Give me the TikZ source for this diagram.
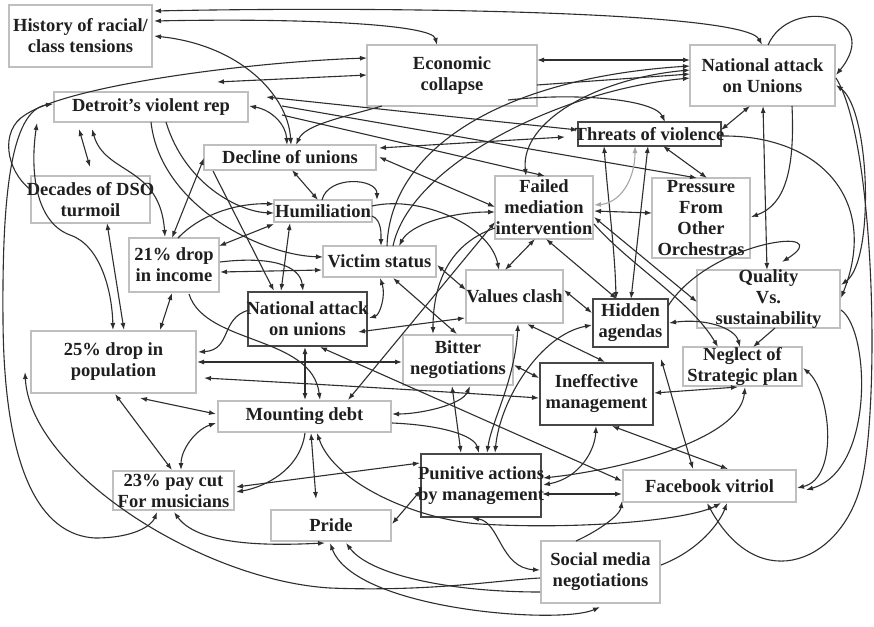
\documentclass[tikz,border=0pt]{standalone}
\usepackage{fontspec}
\setmainfont{Liberation Serif}
\usetikzlibrary{arrows.meta}
\newcommand\mybox[7]{%
  \expandafter\def\csname cx@#2\endcsname{#3}%
  \expandafter\def\csname cy@#2\endcsname{#4}%
  \node[#1,minimum width=#5pt,minimum height=#6pt] (#2) at (#3,#4) {};
  \node[txt] (#2-t) at (#2.center) {#7};}
\newcommand\np[3]{([shift={(#2-\csname cx@#1\endcsname,#3-\csname cy@#1\endcsname)}]#1.center)}
\tikzset{
 box/.style={draw=black!25, line width=1.3pt, inner sep=0pt},
 dbox/.style={box, draw=black!72},
 txt/.style={inner sep=0pt, align=center, text=black!88, font=\fontsize{18.5}{21}\selectfont\bfseries},
 ed/.style={line width=1.1pt, draw=black!82, >={Latex[length=7pt,width=5pt]}},
 ged/.style={ed, draw=black!35}
}
\begin{document}
\begin{tikzpicture}[x=1pt,y=-1pt]
\useasboundingbox[fill=white] (0,0) rectangle (874,626);
% ---------------- nodes
\mybox{box}{hist}{80.5}{36}{143}{62}{History of racial/\\class tensions}
\mybox{box}{econ}{452}{75.5}{170}{61}{Economic\\collapse}
\mybox{box}{natU}{762.5}{75.5}{145}{61}{National attack\\on Unions}
\mybox{box}{det}{151}{107}{194}{30}{Detroit’s violent rep}
\mybox{dbox}{threat}{649.5}{134}{143}{24}{Threats of violence}
\mybox{box}{decl}{290}{157.5}{172}{25}{Decline of unions}
\mybox{box}{dso}{90.5}{199.5}{119}{47}{Decades of DSO\\turmoil}
\mybox{box}{humil}{323}{211}{98}{22}{Humiliation}
\mybox{box}{failed}{544}{207.5}{98}{63}{Failed\\mediation\\intervention}
\mybox{box}{press}{701}{218}{98}{80}{Pressure\\From\\Other\\Orchestras}
\mybox{box}{inc}{174}{265}{90}{54}{21\% drop\\in income}
\mybox{box}{victim}{379.5}{261.5}{113}{31}{Victim status}
\mybox{box}{values}{514.5}{296.5}{97}{53}{Values clash}
\mybox{dbox}{natu}{307.5}{319}{119}{54}{National attack\\on unions}
\mybox{dbox}{hidden}{630.5}{323}{75}{48}{Hidden\\agendas}
\mybox{box}{quality}{768.5}{299}{143}{58}{Quality\\Vs.\\sustainability}
\mybox{box}{pop}{113.5}{362}{165}{62}{25\% drop in\\population}
\mybox{box}{bitter}{458}{360}{110}{50}{Bitter\\negotiations}
\mybox{box}{neglect}{742.5}{366.5}{119}{39}{Neglect of\\Strategic plan}
\mybox{dbox}{ineff}{596.5}{394}{113}{62}{Ineffective\\management}
\mybox{box}{debt}{304.5}{416.5}{173}{31}{Mounting debt}
\mybox{box}{paycut}{173.5}{490.5}{121}{39}{23\% pay cut\\For musicians}
\mybox{dbox}{punitive}{481}{485.5}{120}{63}{Punitive actions\\by management}
\mybox{box}{fb}{709.5}{486}{173}{32}{Facebook vitriol}
\mybox{box}{pride}{331}{525.5}{120}{31}{Pride}
\mybox{box}{social}{600.5}{572}{119}{62}{Social media\\negotiations}
% ---------------- connectors
\draw[ed,<->] \np{hist}{154}{11} .. controls (400,6) and (745,12) .. \np{natU}{762}{45};
\draw[ed,<->] \np{hist}{154}{21} .. controls (300,18) and (432,24) .. \np{econ}{437}{45};
\draw[ed,<->] \np{hist}{154}{36} .. controls (240,45) and (288,95) .. \np{decl}{291}{145};
\draw[ed,->] \np{natU}{768}{45} .. controls (790,-5) and (885,15) .. \np{natU}{836}{75};
\draw[ed,->] \np{dso}{31}{190} .. controls (5,170) and (0,130) .. (25,115) .. controls (70,85) and (250,62) .. \np{econ}{367}{58};
\draw[ed,<->] \np{det}{217}{82} -- \np{econ}{367}{75};
\draw[ed,<->] \np{econ}{537}{60} -- \np{natU}{690}{60};
\draw[ed,->] \np{econ}{537}{85} -- \np{natU}{690}{74};
\draw[ed,->] \np{econ}{382}{106} .. controls (340,118) and (305,125) .. \np{decl}{296}{145};
\draw[ed,<->] \np{det}{249}{106} .. controls (272,110) and (286,125) .. \np{decl}{287}{145};
\draw[ed,->] \np{econ}{508}{100} .. controls (580,92) and (655,100) .. \np{threat}{665}{122};
\draw[ed,<->] \np{det}{266}{97} -- \np{threat}{578}{130};
\draw[ed,->] \np{det}{282}{106} -- \np{press}{697}{178};
\draw[ed,->] \np{det}{282}{115} -- \np{failed}{545}{176};
\draw[ed,<->] \np{decl}{379}{148} -- \np{threat}{565}{137};
\draw[ed,<->] \np{decl}{379}{157} -- \np{failed}{495}{207};
\draw[ed,<->] \np{failed}{526}{176} .. controls (520,120) and (600,78) .. \np{natU}{690}{70};
\draw[ed,->] \np{victim}{387}{246} .. controls (390,150) and (500,78) .. \np{natU}{690}{66};
\draw[ed,->] \np{victim}{393}{246} .. controls (410,165) and (560,90) .. \np{natU}{690}{78};
\draw[ed,<->] \np{threat}{604}{146} .. controls (608,200) and (615,250) .. \np{hidden}{616}{299};
\draw[ed,<->] \np{threat}{648}{146} -- \np{hidden}{631}{299};
\draw[ged,<->] \np{failed}{594}{205} .. controls (620,203) and (635,180) .. \np{threat}{635}{146};
\draw[ed,<->] \np{failed}{594}{211} -- \np{press}{652}{213};
\draw[ed,<->] \np{threat}{663}{146} -- \np{press}{707}{178};
\draw[ed,<->] \np{threat}{721}{130} -- \np{natU}{750}{106};
\draw[ed,<->] \np{natU}{763}{106} -- \np{quality}{767}{270};
\draw[ed,->] \np{natU}{792}{106} .. controls (795,170) and (785,205) .. \np{press}{751}{217};
\draw[ed,->] \np{threat}{722}{136} .. controls (820,135) and (880,200) .. \np{quality}{841}{298};
\draw[ed,<->] \np{natU}{836}{85} .. controls (870,110) and (875,260) .. \np{quality}{841}{285};
\draw[ed,->] \np{hidden}{668}{306} .. controls (710,240) and (840,225) .. \np{quality}{782}{262};
\draw[ed,->] \np{quality}{775}{328} -- \np{neglect}{753}{347};
\draw[ed,<->] \np{hidden}{669}{323} .. controls (705,318) and (735,328) .. \np{neglect}{740}{347};
\draw[ed,<->] \np{failed}{594}{217} -- \np{quality}{697}{302};
\draw[ed,->] \np{failed}{594}{224} .. controls (630,265) and (690,300) .. \np{neglect}{718}{347};
\draw[ed,<->] \np{failed}{546}{239} -- \np{hidden}{617}{299};
\draw[ed,<->] \np{failed}{535}{239} -- \np{values}{505}{270};
\draw[ed,<->] \np{failed}{495}{212} .. controls (450,212) and (410,225) .. \np{victim}{399}{246};
\draw[ed,->] \np{humil}{372}{206} .. controls (420,195) and (490,225) .. \np{values}{499}{270};
\draw[ed,->] \np{humil}{372}{216} .. controls (382,220) and (381,235) .. \np{victim}{381}{246};
\draw[ed,<->] \np{decl}{292}{170} -- \np{humil}{318}{200};
\draw[ed,->] \np{humil}{322}{200} .. controls (328,175) and (377,178) .. \np{humil}{377}{200};
\draw[ed,<->] \np{decl}{204}{158} -- \np{inc}{172}{238};
\draw[ed,->] \np{inc}{178}{238} .. controls (205,210) and (245,203) .. \np{humil}{274}{204};
\draw[ed,<->] \np{inc}{219}{246} -- \np{humil}{274}{224};
\draw[ed,->] \np{det}{166}{122} .. controls (185,185) and (240,212) .. \np{humil}{274}{213};
\draw[ed,->] \np{det}{151}{122} .. controls (160,205) and (260,255) .. \np{victim}{323}{257};
\draw[ed,<->] \np{det}{79}{129} -- \np{dso}{90}{167};
\draw[ed,<->] \np{det}{92}{129} .. controls (105,175) and (160,165) .. \np{inc}{165}{237};
\draw[ed,<->] \np{det}{53}{104} .. controls (10,110) and (2,200) .. (3,320) .. controls (4,470) and (40,535) .. (95,538) .. controls (135,538) and (152,525) .. \np{paycut}{157}{512};
\draw[ed,<->] \np{det}{37}{123} .. controls (30,170) and (35,222) .. (70,235) .. controls (100,245) and (112,290) .. \np{pop}{113}{330};
\draw[ed,<->] \np{dso}{107}{223} -- \np{pop}{124}{330};
\draw[ed,<->] \np{inc}{172}{293} -- \np{pop}{160}{330};
\draw[ed,->] \np{inc}{189}{294} .. controls (205,345) and (312,335) .. \np{debt}{320}{400};
\draw[ed,->] \np{natu}{249}{310} .. controls (220,318) and (232,350) .. \np{pop}{198}{352};
\draw[ed,<->] \np{pop}{197}{362} -- \np{bitter}{402}{362};
\draw[ed,<->] \np{pop}{204}{378} .. controls (350,386) and (450,392) .. \np{ineff}{539}{398};
\draw[ed,<->] \np{pop}{115}{394} -- \np{paycut}{172}{470};
\draw[ed,<->] \np{pop}{140}{398} -- \np{debt}{216}{414};
\draw[ed,<->] \np{debt}{216}{423} .. controls (195,430) and (181,450) .. \np{paycut}{181}{470};
\draw[ed,->] \np{debt}{305}{433} .. controls (300,470) and (265,487) .. \np{paycut}{236}{492};
\draw[ed,<->] \np{punitive}{420}{463} -- \np{paycut}{236}{487};
\draw[ed,<->] \np{debt}{311}{433} -- \np{pride}{316}{499};
\draw[ed,<->] \np{debt}{317}{433} .. controls (335,485) and (420,520) .. (480,524) .. controls (580,530) and (690,520) .. \np{fb}{721}{503};
\draw[ed,<->] \np{pride}{392}{524} -- \np{punitive}{421}{490};
\draw[ed,<->] \np{paycut}{174}{512} .. controls (200,548) and (280,545) .. \np{pride}{325}{543};
\draw[ed,<->] \np{pride}{330}{543} .. controls (355,610) and (560,625) .. \np{social}{600}{607};
\draw[ed,->] \np{social}{540}{592} .. controls (450,592) and (370,575) .. \np{pride}{346}{543};
\draw[ed,->] \np{social}{540}{578} .. controls (500,580) and (430,592) .. (330,588) .. controls (200,580) and (30,470) .. \np{pop}{25}{372};
\draw[ed,<->] \np{punitive}{472}{518} .. controls (500,522) and (500,568) .. \np{social}{540}{570};
\draw[ed,->] \np{social}{576}{541} .. controls (600,530) and (620,515) .. \np{fb}{622}{501};
\draw[ed,->] \np{social}{661}{565} .. controls (700,550) and (720,522) .. \np{fb}{727}{503};
\draw[ed,->] \np{natU}{836}{78} .. controls (875,140) and (880,400) .. (862,480) .. controls (845,560) and (760,600) .. \np{fb}{707}{503};
\draw[ed,<->] \np{neglect}{803}{368} .. controls (830,390) and (840,478) .. \np{fb}{797}{488};
\draw[ed,->] \np{quality}{841}{310} .. controls (870,330) and (875,470) .. \np{fb}{806}{490};
\draw[ed,<->] \np{punitive}{542}{494} -- \np{fb}{622}{494};
\draw[ed,<->] \np{punitive}{543}{478} .. controls (620,470) and (740,440) .. \np{neglect}{745}{387};
\draw[ed,<->] \np{punitive}{543}{485} .. controls (580,478) and (595,450) .. \np{ineff}{596}{426};
\draw[ed,<->] \np{ineff}{612}{426} -- \np{fb}{728}{469};
\draw[ed,<->] \np{hidden}{661}{359} -- \np{fb}{693}{469};
\draw[ed,<->] \np{ineff}{654}{393} -- \np{neglect}{738}{387};
\draw[ed,<->] \np{values}{527}{324} -- \np{ineff}{605}{362};
\draw[ed,<->] \np{values}{518}{324} .. controls (515,380) and (492,420) .. \np{punitive}{487}{453};
\draw[ed,<->] \np{hidden}{592}{325} .. controls (540,335) and (500,400) .. \np{punitive}{495}{453};
\draw[ed,<->] \np{values}{564}{290} -- \np{hidden}{592}{313};
\draw[ed,<->] \np{victim}{437}{265} -- \np{values}{466}{290};
\draw[ed,<->] \np{natu}{358}{332} -- \np{values}{465}{318};
\draw[ed,<->] \np{victim}{380}{278} .. controls (386,295) and (380,315) .. \np{natu}{369}{318};
\draw[ed,<->] \np{victim}{393}{278} -- \np{bitter}{457}{334};
\draw[ed,->] \np{failed}{495}{228} .. controls (445,245) and (433,290) .. \np{bitter}{433}{334};
\draw[ed,<->] \np{failed}{495}{222} -- \np{debt}{348}{400};
\draw[ed,->] \np{inc}{220}{262} .. controls (270,256) and (300,265) .. \np{natu}{303}{291};
\draw[ed,<->] \np{inc}{220}{272} -- \np{victim}{322}{270};
\draw[ed,<->] \np{humil}{290}{223} -- \np{natu}{281}{291};
\draw[ed,->] \np{decl}{213}{171} -- \np{natu}{274}{291};
\draw[ed,<->] \np{natu}{305}{347} -- \np{debt}{305}{400};
\draw[ed,<->] \np{natu}{320}{347} -- \np{fb}{622}{481};
\draw[ed,<->] \np{bitter}{470}{386} .. controls (462,405) and (420,414) .. \np{debt}{392}{414};
\draw[ed,->] \np{debt}{392}{423} .. controls (440,425) and (474,435) .. \np{punitive}{479}{453};
\draw[ed,<->] \np{bitter}{452}{386} -- \np{punitive}{461}{453};
\draw[ed,<->] \np{bitter}{514}{365} -- \np{ineff}{539}{378};
\end{tikzpicture}
\end{document}
